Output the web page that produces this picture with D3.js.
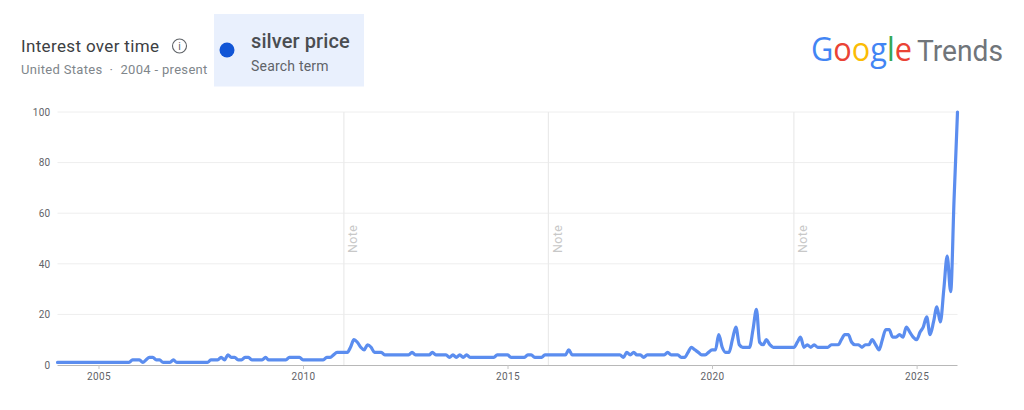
<!DOCTYPE html>
<html>
<head>
<meta charset="utf-8">
<script src="https://cdn.jsdelivr.net/npm/d3@7"></script>
<style>
html,body{margin:0;padding:0;background:#fff;}
svg{display:block;}
text{font-family:Roboto,"Noto Sans",sans-serif;}
</style>
</head>
<body>
<svg id="chart" width="1024" height="410"></svg>
<script>
const startYear = 2004;
const yearlyValues = {
  2004: [1,1,1,1,1,1,1,1,1,1,1,1],
  2005: [1,1,1,1,1,1,1,1,1,1,2,2],
  2006: [2,1,2,3,3,2,2,1,1,1,2,1],
  2007: [1,1,1,1,1,1,1,1,1,2,2,2],
  2008: [3,2,4,3,3,2,2,3,3,2,2,2],
  2009: [2,3,2,2,2,2,2,2,3,3,3,3],
  2010: [2,2,2,2,2,2,2,3,3,4,5,5],
  2011: [5,5,7,10,9,7,6,8,7,5,5,5],
  2012: [4,4,4,4,4,4,4,4,5,4,4,4],
  2013: [4,4,5,4,4,4,4,3,4,3,4,3],
  2014: [4,3,3,3,3,3,3,3,3,4,4,4],
  2015: [4,3,3,3,3,3,4,4,3,3,3,4],
  2016: [4,4,4,4,4,4,6,4,4,4,4,4],
  2017: [4,4,4,4,4,4,4,4,4,4,3,5],
  2018: [4,5,4,4,3,4,4,4,4,4,4,5],
  2019: [4,4,4,3,3,5,7,6,5,4,4,5],
  2020: [6,6,12,7,5,5,10,15,8,7,7,7],
  2021: [14,22,9,8,10,8,7,7,7,7,7,7],
  2022: [7,9,11,7,8,7,8,7,7,7,7,8],
  2023: [8,8,10,12,12,9,8,8,7,8,8,10],
  2024: [8,6,10,14,14,11,11,12,11,15,13,11],
  2025: [10,13,15,19,12,17,23,17,30,43,29,65],
  2026: [100]
};
const yTicks = [0,20,40,60,80,100];
const xTickYears = [2005,2010,2015,2020,2025];
const noteDates = ["2011-01-01","2016-01-01","2022-01-01"];
const googleLetters = [
  {ch:"G",color:"#4285f4"},{ch:"o",color:"#ea4335"},{ch:"o",color:"#fbbc05"},
  {ch:"g",color:"#4285f4"},{ch:"l",color:"#34a853"},{ch:"e",color:"#ea4335"}
];

const data = [];
Object.keys(yearlyValues).forEach(y => yearlyValues[y].forEach((v,m) => data.push({date:new Date(Date.UTC(+y,m,1)), value:v})));

const svg = d3.select("#chart");
const x = d3.scaleUtc().domain([new Date(Date.UTC(startYear,0,1)), new Date(Date.UTC(2026,0,1))]).range([57.5,957.5]);
const y = d3.scaleLinear().domain([0,100]).range([365,112]);

// header
svg.append("rect").attr("x",214).attr("y",14).attr("width",150).attr("height",72.5).attr("fill","#e9f0fd");
svg.append("text").attr("x",21).attr("y",52).attr("font-size",17).attr("letter-spacing",0.35).attr("fill","#3c4043").text("Interest over time");
svg.append("circle").attr("cx",179.5).attr("cy",46).attr("r",7).attr("fill","none").attr("stroke","#5f6368").attr("stroke-width",1.1);
svg.append("text").attr("x",179.5).attr("y",50).attr("text-anchor","middle").attr("font-size",10.5).attr("fill","#5f6368").text("i");
svg.append("text").attr("x",21).attr("y",73.5).attr("font-size",13).attr("fill","#80868b").attr("letter-spacing",0.32).attr("xml:space","preserve").text("United States  ·  2004 - present");
svg.append("circle").attr("cx",227).attr("cy",50).attr("r",7.5).attr("fill","#1155d6");
svg.append("text").attr("x",251).attr("y",47.5).attr("font-size",20).attr("font-weight",500).attr("letter-spacing",0.1).attr("fill","#4a4d51").text("silver price");
svg.append("text").attr("x",251).attr("y",70.5).attr("font-size",14).attr("fill","#5f6368").attr("letter-spacing",0.2).text("Search term");

// logo
const logo = svg.append("text").attr("x",811).attr("y",61).attr("font-size",32).attr("font-weight",500)
  .attr("textLength",101).attr("lengthAdjust","spacingAndGlyphs").style("font-family","'Open Sans',Roboto,sans-serif");
logo.selectAll("tspan").data(googleLetters).join("tspan").attr("fill",d=>d.color).text(d=>d.ch);
svg.append("text").attr("x",917).attr("y",61).attr("font-size",29).attr("fill","#70757a")
  .attr("textLength",86).attr("lengthAdjust","spacingAndGlyphs").text("Trends");

// grid
svg.append("g").selectAll("line").data(yTicks.filter(d=>d>0)).join("line")
  .attr("x1",57.5).attr("x2",957.5).attr("y1",d=>y(d)).attr("y2",d=>y(d))
  .attr("stroke","#eeeeee").attr("stroke-width",1);

// note lines
const notes = svg.append("g");
noteDates.forEach(d => {
  const px = x(new Date(d+"T00:00:00Z"));
  notes.append("line").attr("x1",px).attr("x2",px).attr("y1",112).attr("y2",365).attr("stroke","#eaeaea").attr("stroke-width",1.2);
  notes.append("text").attr("transform",`translate(${px+13.5},253) rotate(-90)`).attr("font-size",12.5).attr("fill","#c8c8c8").attr("letter-spacing",0.4).text("Note");
});

// axes
const yAxis = svg.append("g").attr("transform","translate(57.5,0)")
  .call(d3.axisLeft(y).tickValues(yTicks).tickSize(0).tickPadding(7));
yAxis.select(".domain").remove();
yAxis.selectAll("text").attr("font-size",10).attr("letter-spacing",0.3).attr("fill","#5f6368").style("font-family","Roboto,sans-serif");

const xAxis = svg.append("g").attr("transform","translate(0,365)")
  .call(d3.axisBottom(x).tickValues(xTickYears.map(v=>new Date(Date.UTC(v,0,1)))).tickFormat(d3.utcFormat("%Y")).tickSize(4).tickPadding(4));
xAxis.select(".domain").attr("stroke","#b8b8b8").attr("d","M57.5,0.5H957.5");
xAxis.selectAll(".tick line").attr("stroke","#c4c4c4");
xAxis.selectAll("text").attr("font-size",10).attr("letter-spacing",0.4).attr("fill","#5f6368").style("font-family","Roboto,sans-serif");

// series
const line = d3.line().x(d=>x(d.date)).y(d=>y(d.value)).curve(d3.curveMonotoneX);
svg.append("path").datum(data).attr("d",line).attr("fill","none")
  .attr("stroke","#5b8def").attr("stroke-width",3.2).attr("stroke-linejoin","round").attr("stroke-linecap","round");
</script>
</body>
</html>
